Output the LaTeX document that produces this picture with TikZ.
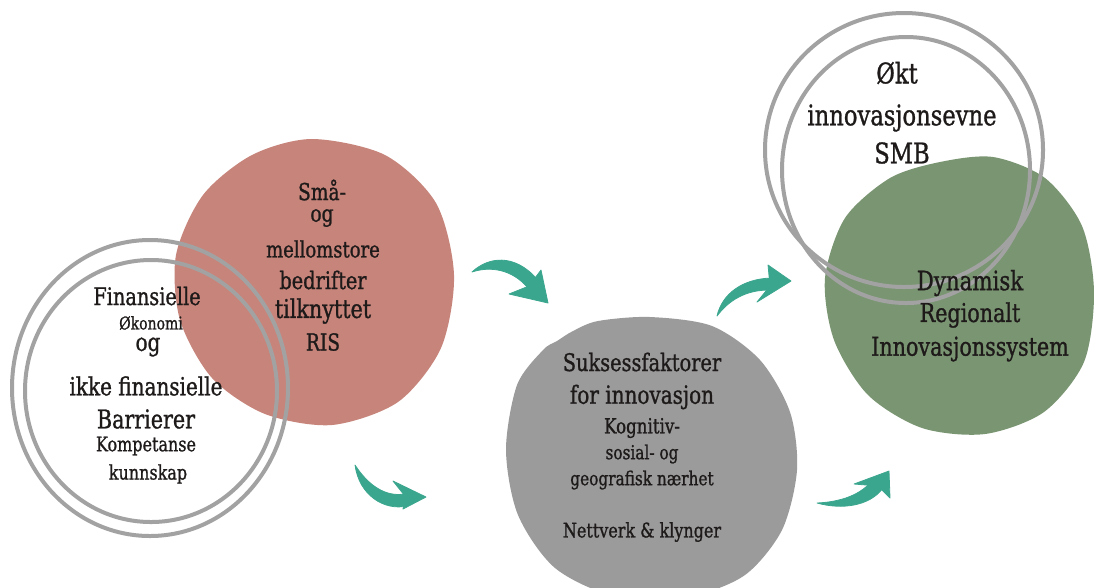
\documentclass[tikz,border=0pt]{standalone}
\usepackage{fontspec}
\setmainfont{DejaVu Serif}[FakeBold=1.2]
\definecolor{blobred}{HTML}{C7847A}
\definecolor{blobgreen}{HTML}{7A9572}
\definecolor{blobgray}{HTML}{9B9B9B}
\definecolor{ringgray}{HTML}{A2A2A2}
\definecolor{arrteal}{HTML}{3BA68E}
\definecolor{ink}{HTML}{1E1A1A}
\newcommand{\tall}[1]{\scalebox{1}[1.25]{#1}}
\tikzset{
  blob/.style={draw=none},
  ring/.style={draw=ringgray, line width=3pt},
  arrshape/.style={fill=arrteal, draw=arrteal, line width=0.6pt, line join=round},
  txt/.style={inner sep=0pt, text=ink, anchor=center},
  fs/.style={font=\fontsize{#1}{#1}\selectfont}
}
\begin{document}
\begin{tikzpicture}[x=0.75pt,y=-0.75pt]
\useasboundingbox (0,0) rectangle (1094,587);
\begin{scope}
\clip (0,0) rectangle (1094,587);
% red blob
\fill[blob, blobred] plot[smooth cycle] coordinates {
  (312,139) (385,155) (436,203) (454,275) (441,348) (398,402) (332,425)
  (265,414) (212,378) (180,320) (176,255) (203,195) (252,155)};
% gray blob
\fill[blob, blobgray] plot[smooth cycle] coordinates {
  (650,317) (712,326) (760,360) (790,412) (797,470) (782,530) (745,575)
  (690,596) (615,596) (555,568) (518,515) (506,450) (517,385) (543,350) (557,341) (573,331) (598,321)};
% green blob
\fill[blob, blobgreen] plot[smooth cycle] coordinates {
  (993,157) (1045,178) (1082,226) (1094,292) (1084,362) (1044,412) (985,434)
  (922,428) (868,395) (834,340) (825,278) (845,218) (890,178) (940,162)};
\end{scope}
% rings
\draw[ring] (150,388) ellipse [x radius=138, y radius=148];
\draw[ring] (151,391) ellipse [x radius=126, y radius=131];
\draw[ring] (904,150) ellipse [x radius=139, y radius=137];
\draw[ring] (906,170) ellipse [x radius=124, y radius=133];
% arrows (tapered brush strokes)
\coordinate (a1s) at (472,272); \coordinate (a1e) at (548,303);
\coordinate (a2s) at (355,465); \coordinate (a2e) at (426,497);
\coordinate (a3s) at (717,316); \coordinate (a3e) at (791,281);
\coordinate (a4s) at (817,503); \coordinate (a4e) at (889,471);
\path[arrshape] (a1s) .. controls (488,257) and (514,253) .. (537,279)
  -- (528,288) .. controls (512,269) and (490,266) .. (a1s) -- cycle;
\path[arrshape] (541,270) -- (a1e) -- (509,294) -- (529,286) -- cycle;
\path[arrshape] (a2s) .. controls (359,495) and (384,511) .. (407,506)
  -- (404,494) .. controls (385,497) and (368,485) .. (a2s) -- cycle;
\path[arrshape] (393,481) -- (a2e) -- (403,509) -- (405,496) -- cycle;
\path[arrshape] (a3s) .. controls (722,294) and (742,279) .. (771,278)
  -- (769,290) .. controls (746,290) and (729,300) .. (a3s) -- cycle;
\path[arrshape] (768,265) -- (a3e) -- (757,302) -- (770,286) -- cycle;
\path[arrshape] (a4s) .. controls (840,502) and (862,495) .. (873,479)
  -- (883,488) .. controls (870,506) and (842,510) .. (a4s) -- cycle;
\path[arrshape] (854,484) -- (a4e) -- (890,498) -- (878,486) -- cycle;
% left ring text
\node[txt, fs=14.5] (l1) at (147,296) {\tall{Finansielle}};
\node[txt, fs=10.5] (l2) at (151,323) {\tall{Økonomi}};
\node[txt, fs=15] (l3) at (148,347) {\tall{og}};
\node[txt, fs=15] (l4) at (146,386) {\tall{ikke finansielle}};
\node[txt, fs=15.5] (l5) at (146,419) {\tall{Barrierer}};
\node[txt, fs=12] (l6) at (146,446) {\tall{Kompetanse}};
\node[txt, fs=12] (l7) at (148,474) {\tall{kunnskap}};
% red text
\node[txt, fs=14] (r1) at (322,190) {\tall{Små-}};
\node[txt, fs=14] (r2) at (322,218) {\tall{og}};
\node[txt, fs=13.5] (r3) at (323,249) {\tall{mellomstore}};
\node[txt, fs=14.5] (r4) at (323,280) {\tall{bedrifter}};
\node[txt, fs=15.5] (r5) at (323,311) {\tall{tilknyttet}};
\node[txt, fs=14] (r6) at (323,342) {\tall{RIS}};
% gray text
\node[txt, fs=14.5] (g1) at (642,362) {\tall{Suksessfaktorer}};
\node[txt, fs=15] (g2) at (642,397) {\tall{for innovasjon}};
\node[txt, fs=12.5] (g3) at (642,428) {\tall{Kognitiv-}};
\node[txt, fs=11.5] (g4) at (642,454) {\tall{sosial- og}};
\node[txt, fs=11.5] (g5) at (642,480) {\tall{geografisk nærhet}};
\node[txt, fs=12] (g6) at (642,532) {\tall{Nettverk \& klynger}};
% top right text
\node[txt, fs=17] (t1) at (897,73) {\tall{Økt}};
\node[txt, fs=17] (t2) at (902,118) {\tall{innovasjonsevne}};
\node[txt, fs=17] (t3) at (902,153) {\tall{SMB}};
% green text
\node[txt, fs=16] (d1) at (970,283) {\tall{Dynamisk}};
\node[txt, fs=15.5] (d2) at (970,315) {\tall{Regionalt}};
\node[txt, fs=15.5] (d3) at (970,349) {\tall{Innovasjonssystem}};
\end{tikzpicture}
\end{document}
